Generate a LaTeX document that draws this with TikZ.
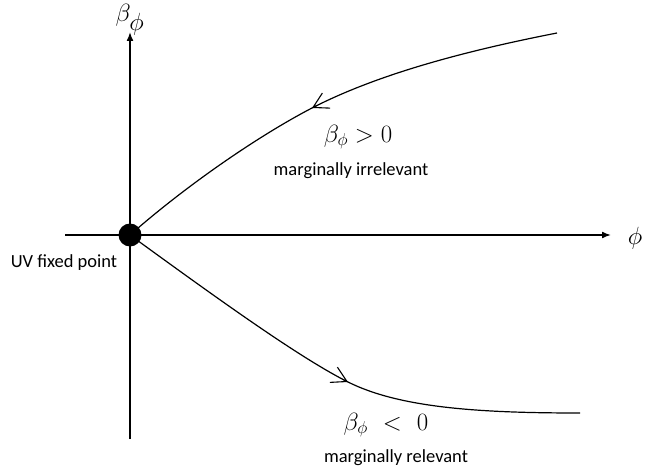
\documentclass[tikz,border=0pt]{standalone}
\usepackage{fontspec}
\setsansfont{Carlito}
\usetikzlibrary{arrows.meta,calc}
\begin{document}
\begin{tikzpicture}[x=1pt,y=-1pt,
  axis/.style={line width=1.6pt,-{Latex[length=9pt,width=7pt]}},
  flow/.style={line width=1.2pt},
  barb/.style={line width=1.1pt,-{Straight Barb[length=15pt,width=17pt]}},
  txt/.style={font=\sffamily\fontsize{18.5}{22}\selectfont,anchor=base,inner sep=0pt},
  mlab/.style={font=\fontsize{27}{31}\selectfont,inner sep=0pt},
  alab/.style={font=\fontsize{29}{34}\selectfont,inner sep=0pt}]
\useasboundingbox (0,0) rectangle (652,468);
% coordinates
\coordinate (o) at (130,235);
\coordinate (xl) at (65,235);
\coordinate (xr) at (611,235);
\coordinate (yb) at (130,439);
\coordinate (yt) at (130,32);
\coordinate (ua) at (312,108);
\coordinate (ue) at (557,33);
\coordinate (la) at (348,382);
\coordinate (le) at (580,413);
% axes
\draw[axis] (xl) -- (xr);
\draw[axis] (yb) -- (yt);
% flows
\draw[flow] (o) .. controls (188,184) and (260,135) .. (ua)
             .. controls (380,73) and (470,50) .. (ue);
\draw[flow] (o) .. controls (218,299) and (300,358) .. (la)
             .. controls (400,408) and (480,413) .. (le);
\draw[barb] ($(ua)+(5.2,-2.7)$) -- (ua);
\draw[barb] ($(la)+(-5.4,-2.7)$) -- (la);
% fixed point
\fill (o) circle (11.5);
% labels
\node[alab,font=\fontsize{36}{40}\selectfont] (yl) at (130,20) {$\beta_\phi$};
\node[alab] (xlab) at (635,238) {$\phi$};
\node[mlab] (pos) at (358,137) {$\beta_\phi > 0$};
\node[txt] (irr) at (351,175) {marginally irrelevant};
\node[mlab] (neg) at (386,425) {$\beta_\phi\ <\ 0$};
\node[txt] (rel) at (396,462) {marginally relevant};
\node[txt] (uv) at (64,267) {UV fixed point};
\end{tikzpicture}
\end{document}
